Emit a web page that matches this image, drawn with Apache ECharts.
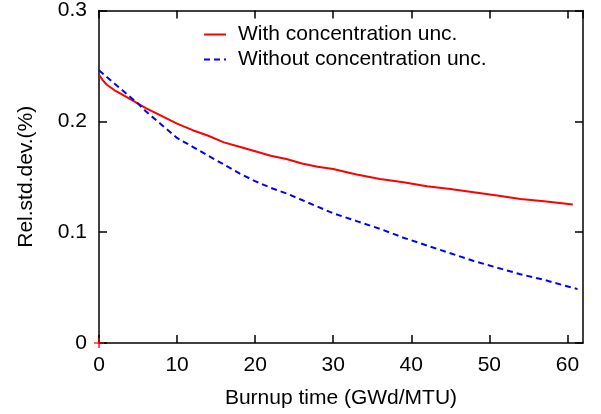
<!DOCTYPE html>
<html>
<head>
<meta charset="utf-8">
<script src="https://cdn.jsdelivr.net/npm/echarts@6/dist/echarts.min.js"></script>
<style>html,body{margin:0;padding:0;background:#fff}#c{width:601px;height:414px}</style>
</head>
<body>
<div id="c"></div>
<script>
var withX = [0,0.5,1,2,3,4,5,6,8,10,12,14,16,18,20,22,24,26,28,30,33,36,39,42,45,48,51,54,57,60.7];
var withY = [0.242,0.237,0.233,0.228,0.224,0.220,0.216,0.212,0.205,0.198,0.192,0.187,0.181,0.177,0.173,0.169,0.166,0.162,0.159,0.157,0.152,0.148,0.145,0.1415,0.139,0.136,0.133,0.130,0.128,0.125];
var withoutX = [0,1,2,3,4,5,6,8,10,12,14,16,18,20,22,24,26,28,30,33,36,39,42,45,48,51,54,57,61.3];
var withoutY = [0.246,0.240,0.234,0.228,0.222,0.216,0.209,0.197,0.185,0.177,0.169,0.161,0.153,0.146,0.140,0.135,0.129,0.123,0.117,0.110,0.103,0.095,0.088,0.081,0.074,0.068,0.062,0.057,0.0486];
var originMark = [[0,0]];
var seriesNames = ['With concentration unc.','Without concentration unc.'];
var xTitle = 'Burnup time (GWd/MTU)';
var yTitle = 'Rel.std.dev.(%)';

function zip(a,b){return a.map(function(v,i){return [v,b[i]];});}
var FONT = 'Liberation Sans, Arial, sans-serif';
var chart = echarts.init(document.getElementById('c'), null, {renderer:'canvas'});
var axisLineStyle = {color:'#000', width:1.5};
var tickStyle = {show:true,inside:true,length:8,lineStyle:{color:'#000',width:1.5}};
chart.setOption({
  animation:false,
  backgroundColor:'#fff',
  grid:{left:99,right:18,top:10,bottom:71,containLabel:false},
  legend:{
    left:203, top:24, padding:0, orient:'vertical', itemGap:4, itemWidth:22, itemHeight:14,
    itemStyle:{opacity:0},
    textStyle:{fontFamily:FONT,fontSize:21,color:'#000',padding:[0,0,0,7]},
    data:seriesNames
  },
  xAxis:[{
    type:'value', min:0, max:62, interval:10,
    name:xTitle, nameLocation:'middle', nameGap:45,
    nameTextStyle:{fontFamily:FONT,fontSize:21,color:'#000'},
    axisLine:{show:true,onZero:false,lineStyle:axisLineStyle},
    axisTick:tickStyle,
    axisLabel:{fontFamily:FONT,fontSize:21,color:'#000',margin:12,showMaxLabel:false},
    splitLine:{show:false}
  },{
    type:'value', min:0, max:62, interval:10, position:'top',
    axisLine:{show:true,onZero:false,lineStyle:axisLineStyle},
    axisTick:tickStyle,
    axisLabel:{show:false}, splitLine:{show:false}
  }],
  yAxis:[{
    type:'value', min:0, max:0.3, interval:0.1,
    name:yTitle, nameLocation:'middle', nameGap:62,
    nameTextStyle:{fontFamily:FONT,fontSize:21,color:'#000'},
    axisLine:{show:true,onZero:false,lineStyle:axisLineStyle},
    axisTick:tickStyle,
    axisLabel:{fontFamily:FONT,fontSize:21,color:'#000',margin:12,
      formatter:function(v){return v===0?'0':v.toFixed(1);}},
    splitLine:{show:false}
  },{
    type:'value', min:0, max:0.3, interval:0.1, position:'right',
    axisLine:{show:true,onZero:false,lineStyle:axisLineStyle},
    axisTick:tickStyle,
    axisLabel:{show:false}, splitLine:{show:false}
  }],
  series:[{
    name:seriesNames[0], type:'line', data:zip(withX,withY),
    showSymbol:false, symbol:'none', smooth:false,
    lineStyle:{color:'#ff0000',width:2}, itemStyle:{color:'#ff0000'}, z:3
  },{
    name:seriesNames[1], type:'line', data:zip(withoutX,withoutY),
    showSymbol:false, symbol:'none', smooth:false,
    lineStyle:{color:'#0000ff',width:2,type:[6,4]}, itemStyle:{color:'#0000ff'}, z:3
  },{
    name:'origin', type:'scatter', data:originMark,
    symbol:'path://M4,0h1.6v4h4v1.6h-4v4h-1.6v-4h-4v-1.6h4z', symbolSize:10,
    itemStyle:{color:'#ff0000'}, z:1, silent:true
  }]
});
</script>
</body>
</html>
